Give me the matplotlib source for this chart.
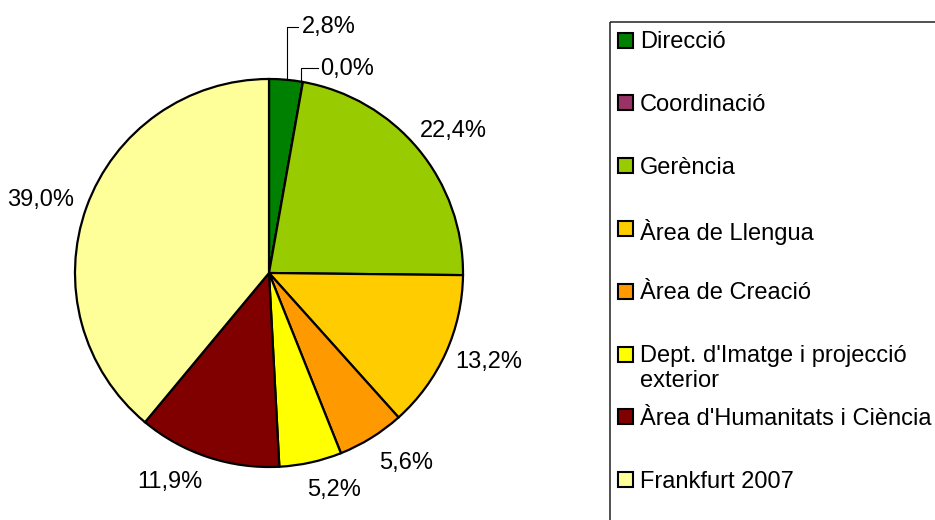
import matplotlib

matplotlib.use('Agg')

import matplotlib.pyplot as plt
from matplotlib.patches import Rectangle

plt.rcParams['font.family'] = ['Liberation Sans', 'DejaVu Sans']

# 데이터
categories = ['Direcció', 'Coordinació', 'Gerència', 'Àrea de Llengua',
              'Àrea de Creació', "Dept. d'Imatge i projecció\nexterior",
              "Àrea d'Humanitats i Ciència", 'Frankfurt 2007']
values = [2.8, 0.0, 22.4, 13.2, 5.6, 5.2, 11.9, 39.0]
colors = ['#008000', '#993366', '#99CC00', '#FFCC00',
          '#FF9900', '#FFFF00', '#800000', '#FFFF99']

# 라벨 위치 (파이 반지름 단위)
label_pos = [(0.31, 1.27), (0.40, 1.05), (0.948, 0.732), (1.134, -0.459),
             (0.706, -0.979), (0.335, -1.119), (-0.510, -1.077), (-1.180, 0.376)]

W, H = 935, 520
cx, cy, R = 269, 273, 194
fs = 17

fig = plt.figure(figsize=(W / 100, H / 100), dpi=100)

# 파이 차트 축 (픽셀 단위와 맞춤)
ax = fig.add_axes([0, 0, 600 / W, 1])

ax.pie(values, colors=colors, startangle=90, counterclock=False, radius=1,
       wedgeprops=dict(edgecolor='black', linewidth=1.6))

ax.set_aspect('auto')
ax.set_xlim((0 - cx) / R, (600 - cx) / R)
ax.set_ylim((cy - H) / R, cy / R)
ax.axis('off')

for v, (x, y) in zip(values, label_pos):
    ax.text(x, y, f'{v:.1f}%'.replace('.', ','), ha='center', va='center', fontsize=fs)

# 작은 조각 라벨의 지시선
ax.plot([0.093, 0.093, 0.149], [0.995, 1.268, 1.268], color='black', lw=0.8)
ax.plot([0.165, 0.165, 0.253], [0.985, 1.057, 1.057], color='black', lw=0.8)

# 범례 (픽셀 좌표)
lg = fig.add_axes([0, 0, 1, 1])
lg.set_xlim(0, W)
lg.set_ylim(H, 0)
lg.axis('off')
lg.add_patch(Rectangle((610, 22), 400, 600, facecolor='none', edgecolor='#222222', lw=1.1))

y0, step = 41, 62.8
for i, (name, c) in enumerate(zip(categories, colors)):
    y = y0 + i * step
    lg.add_patch(Rectangle((618, y - 8.5), 15, 15, facecolor=c, edgecolor='black', lw=1.5))
    lg.text(640, y - 10, name, ha='left', va='top', fontsize=fs, linespacing=1.15)

fig.savefig('out.png', dpi=100)
